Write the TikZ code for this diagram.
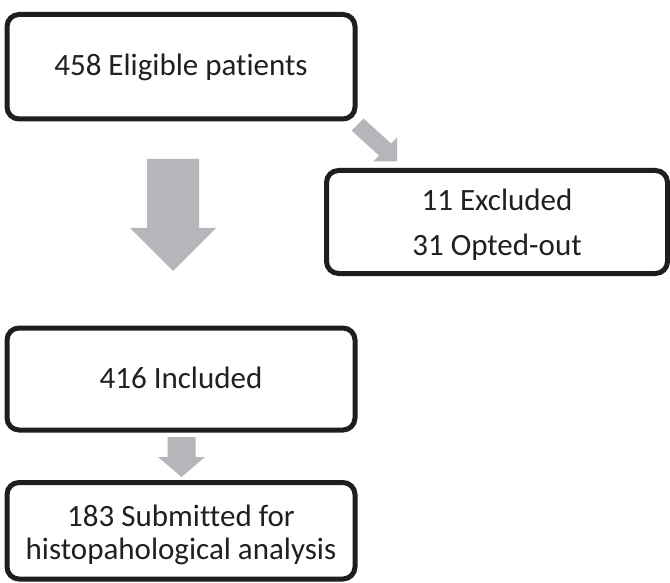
\documentclass[tikz,border=0pt]{standalone}
\usepackage{fontspec}
\setmainfont{Carlito}[Ligatures=NoCommon]
\definecolor{arrowgrey}{HTML}{B5B6B9}
\definecolor{boxline}{HTML}{1E1E1E}
\definecolor{txt}{HTML}{231F20}
\tikzset{
  flowbox/.style={draw=boxline, line width=5pt, rounded corners=12pt, fill=white,
    inner sep=0pt},
  boxtext/.style={inner sep=0pt, align=center, text=txt, font=\fontsize{31}{33}\selectfont},
  blockarrow/.style={fill=arrowgrey, draw=none}
}
\begin{document}
\begin{tikzpicture}[x=1pt,y=-1pt]
\useasboundingbox (0,0) rectangle (670,583);
% block arrows
\fill[blockarrow] (147,159) -- (199,159) -- (199,228) -- (216,228) -- (173,271) -- (130,228) -- (147,228) -- cycle;
\fill[blockarrow] (167.5,437) -- (195.5,437) -- (195.5,457) -- (205,457) -- (181.5,477) -- (158,457) -- (167.5,457) -- cycle;
\fill[blockarrow] (351.5,130.5) -- (363.5,118.5) -- (391,143.5) -- (397,137.5) -- (397,161.5) -- (373,161.5) -- (379,155.5) -- cycle;
% boxes
\node[flowbox, minimum width=348pt, minimum height=104.5pt] (b1) at (181,66.75) {};
\node[flowbox, minimum width=341pt, minimum height=103pt] (b2) at (497,222) {};
\node[flowbox, minimum width=348pt, minimum height=102pt] (b3) at (181,379) {};
\node[flowbox, minimum width=348pt, minimum height=96.5pt] (b4) at (181,530.75) {};
% texts
\node[boxtext] (t1) at ([yshift=-1pt]b1.center) {458 Eligible patients};
\node[boxtext, font=\fontsize{31}{45}\selectfont] (t2) at ([yshift=-3pt]b2.center) {11 Excluded\\31 Opted-out};
\node[boxtext] (t3) at ([yshift=1pt]b3.center) {416 Included};
\node[boxtext] (t4) at ([yshift=-4pt]b4.center) {183 Submitted for\\histopahological analysis};
\end{tikzpicture}
\end{document}
